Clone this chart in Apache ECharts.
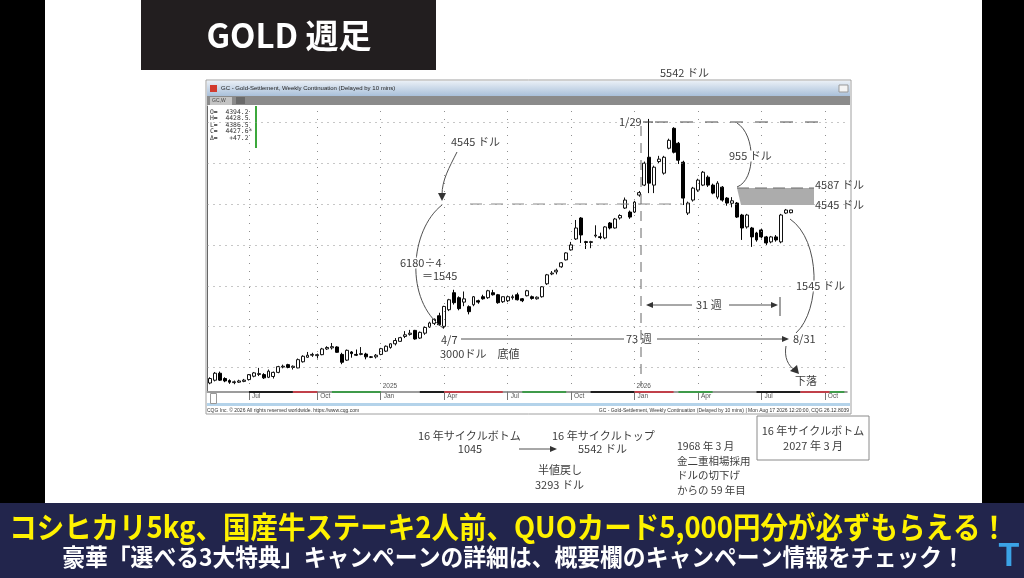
<!DOCTYPE html>
<html><head><meta charset="utf-8">
<script src="https://cdn.jsdelivr.net/npm/echarts@6/dist/echarts.min.js"></script>
<style>html,body{margin:0;padding:0;background:#fff;}#c{width:1024px;height:578px;}</style>
</head><body><div id="c"></div>
<script>
// ---- data ----
const firstWeek = '2024-05-06';   // first weekly bar (Monday)
const weekSlots = 131;            // bars that fit on the time axis
// [open, close, low, high]
const ohlc2024 = [
 [2310,2365,2295,2380],[2344,2430,2330,2445],[2430,2345,2335,2450],[2365,2335,2320,2380],
 [2340,2320,2300,2355],[2315,2325,2295,2340],[2320,2335,2310,2350],[2330,2345,2320,2360],
 [2352,2413,2340,2420],[2393,2434,2380,2445],[2415,2425,2395,2495],[2413,2373,2360,2430],
 [2380,2455,2370,2475],[2390,2440,2365,2450],[2440,2510,2430,2520],[2505,2515,2490,2535],
 [2535,2500,2490,2545],[2500,2515,2475,2525],[2495,2596,2490,2610],[2570,2637,2560,2650],
 [2625,2650,2620,2690],[2650,2660,2630,2680],[2645,2657,2610,2670],[2657,2727,2650,2740],
 [2727,2745,2715,2760],[2740,2755,2720,2800],[2751,2686,2680,2760],[2660,2564,2540,2680],
 [2590,2710,2580,2720],[2690,2670,2620,2700],[2660,2650,2640,2720],[2660,2670,2650,2750],
 [2665,2630,2600,2680],[2630,2625,2615,2640],[2630,2650,2610,2665]
];
const ohlc2025 = [
 [2660,2730,2650,2740],[2700,2760,2690,2770],[2745,2790,2730,2795],[2790,2830,2770,2860],
 [2820,2865,2815,2875],[2880,2900,2860,2945],[2905,2920,2890,2960],[2954,2849,2840,2960],
 [2860,2930,2850,2940],[2920,2990,2900,3005],[2995,3045,2985,3060],[3040,3090,3020,3100],
 [3133,3023,3010,3170],[3003,3247,2975,3255],[3207,3329,3190,3340],[3415,3293,3270,3451],
 [3354,3220,3200,3370],[3300,3340,3250,3430],[3244,3183,3150,3260],[3268,3366,3250,3375],
 [3317,3300,3280,3330],[3366,3341,3330,3390],[3354,3439,3340,3450],[3415,3390,3380,3450],
 [3390,3293,3280,3400],[3305,3366,3290,3370],[3317,3366,3300,3380],[3354,3366,3330,3390],
 [3390,3329,3320,3415],[3341,3317,3300,3350],[3378,3439,3370,3450],[3366,3345,3330,3380],
 [3341,3360,3330,3370],[3366,3488,3355,3495],[3524,3634,3510,3645],[3645,3655,3630,3680],
 [3670,3690,3640,3710],[3732,3781,3720,3790],[3817,3902,3810,3910],[3939,4000,3930,4037],
 [4073,4207,4060,4305],[4329,4122,4024,4340],[4040,4030,3950,4050],[4030,4040,3960,4050],
 [4110,4120,4090,4240],[4100,4090,4070,4150],[4085,4220,4070,4230],[4268,4207,4190,4280],
 [4207,4317,4200,4330],[4330,4360,4310,4375],[4451,4549,4440,4580],[4402,4341,4320,4420]
];
const ohlc2026 = [
 [4402,4524,4390,4540],[4610,4640,4590,4660],[4732,5000,4720,5020],[5073,4756,4634,5542],
 [4732,4951,4634,4970],[5020,5050,5000,5090],[4878,5073,4860,5090],[5183,5280,5170,5300],
 [5427,5134,5120,5440],[5244,5037,4990,5260],[5012,4573,4488,5030],[4390,4512,4366,4530],
 [4549,4695,4530,4710],[4671,4793,4650,4810],[4732,4890,4720,4905],[4829,4732,4710,4850],
 [4732,4634,4620,4750],[4585,4756,4560,4780],[4707,4549,4530,4720],[4573,4512,4480,4585],
 [4510,4540,4460,4585],[4512,4341,4330,4525],[4366,4207,4061,4380],[4220,4366,4200,4380],
 [4207,4098,3976,4220],[4146,4061,4040,4160],[4183,4098,4080,4200],[4098,4024,4000,4110],
 [4037,4098,4020,4110],[4098,4061,4040,4120],[4037,4366,4020,4380],[4390,4427,4380,4440],
 [4394.2,4427.6,4386.5,4428.5]
];
const priceGrid = [2500,3000,3500,4000,4500,5000,5500];
const monthNames = ['Jan','Feb','Mar','Apr','May','Jun','Jul','Aug','Sep','Oct','Nov','Dec'];
const ohlcBox = ['O=  4394.2','H=  4428.5','L=  4386.5','C=  4427.6*','Δ=   +47.2'];
// coloured stretches of the time-axis line: [first bar, last bar, colour]
const axisBands = [
 [8,17,'#1e1e1e'],[17,22,'#c0404a'],[25,35,'#3f9a4a'],
 [43,48,'#1e1e1e'],[48,60,'#c0404a'],[64,73,'#3f9a4a'],
 [78,87,'#1e1e1e'],[87,95,'#c0404a'],[96,103,'#3f9a4a'],
 [112,121,'#1e1e1e'],[121,127,'#c0404a'],[127,130,'#3f9a4a']
];

// ---- build ----
const weeks = [];
const t0 = Date.parse(firstWeek + 'T00:00:00Z');
for (let i = 0; i < weekSlots; i++) weeks.push(new Date(t0 + i * 7 * 86400000).toISOString().slice(0, 10));
const candles = ohlc2024.concat(ohlc2025, ohlc2026);
const month = w => +w.slice(5, 7) - 1;
const qIdx = new Set(), janIdx = new Set();
weeks.forEach((w, i) => {
  const m = month(w), pm = i > 0 ? month(weeks[i - 1]) : -1;
  if (m % 3 === 0 && m !== pm) { qIdx.add(i); if (m === 0) janIdx.add(i); }
});

const JP = '"Noto Sans CJK JP", "Noto Sans", sans-serif';
const SANS = '"Liberation Sans", "DejaVu Sans", sans-serif';
const ANN = '#3d3d3d';
function T(text, x, y, size, o) {
  o = o || {};
  return { type: 'text', z: o.z || 60, x: x, y: y, scaleX: o.sx || 1, style: {
    text: text, x: 0, y: 0, fill: o.color || ANN,
    font: (o.weight || 'normal') + ' ' + size + 'px ' + (o.family || JP),
    textAlign: o.align || 'left', align: o.align || 'left',
    textVerticalAlign: 'middle', verticalAlign: 'middle',
    backgroundColor: o.bg, padding: o.pad } };
}
function L(x1, y1, x2, y2, o) {
  o = o || {};
  return { type: 'line', z: o.z || 50, shape: { x1: x1, y1: y1, x2: x2, y2: y2 },
    style: { stroke: o.color || '#505050', lineWidth: o.w || 1, lineDash: o.dash || null } };
}
function B(x1, y1, c1x, c1y, c2x, c2y, x2, y2) {
  return { type: 'bezierCurve', z: 50, shape: { x1: x1, y1: y1, cpx1: c1x, cpy1: c1y, cpx2: c2x, cpy2: c2y, x2: x2, y2: y2 },
    style: { stroke: '#505050', lineWidth: 1, fill: null } };
}
function TRI(p, color) { return { type: 'polygon', z: 51, shape: { points: p }, style: { fill: color || '#333' } }; }
function R(x, y, w, h, fill, o) {
  o = o || {};
  return { type: 'rect', z: o.z === undefined ? 0 : o.z, shape: { x: x, y: y, width: w, height: h },
    style: { fill: fill, stroke: o.stroke || null, lineWidth: o.lw || 1, lineDash: o.dash || null } };
}

const g = [];
// page frame
g.push(R(0, 0, 45, 503, '#000'));
g.push(R(982, 0, 42, 503, '#000'));
g.push(R(141, 0, 295, 70, '#221e1f'));
g.push(T('GOLD 週足', 289, 35, 33, { color: '#fff', weight: 'bold', align: 'center' }));
g.push(R(0, 503, 1024, 75, '#22254c', { z: 1 }));
g.push(T('コシヒカリ5kg、国産牛ステーキ2人前、QUOカード5,000円分が必ずもらえる！', 508.5, 527, 30, { color: '#fff200', weight: 'bold', align: 'center', sx: 0.916 }));
g.push(T('豪華「選べる3大特典」キャンペーンの詳細は、概要欄のキャンペーン情報をチェック！', 513.5, 557, 24, { color: '#ffffff', weight: 'bold', align: 'center', sx: 0.95 }));
g.push(T('T', 1009, 557, 34, { color: '#3ba3e6', weight: 'bold', align: 'center', family: SANS }));

// CQG window
g.push(R(206, 80, 645, 334, '#fff', { stroke: '#a0a0a0' }));
g.push({ type: 'rect', z: 1, shape: { x: 207, y: 81, width: 643, height: 15 },
  style: { fill: new echarts.graphic.LinearGradient(0, 0, 0, 1, [{ offset: 0, color: '#e9eff6' }, { offset: 1, color: '#a9c0da' }]) } });
g.push(R(210, 85, 7, 7, '#d23a2e', { z: 2 }));
g.push(T('GC - Gold-Settlement, Weekly Continuation (Delayed by 10 mins)', 221, 88.5, 6, { family: SANS, color: '#222', z: 3 }));
g.push(R(839, 85, 9, 7, '#f4f4f4', { z: 2, stroke: '#999' }));
g.push(R(207, 96, 643, 9, '#8b8b8b', { z: 1 }));
g.push(R(210, 97, 22, 8, '#c4c4c4', { z: 2 }));
g.push(T('GC,W', 212, 101, 5, { family: SANS, color: '#444', z: 3 }));
g.push(R(236, 97, 9, 7, '#6a6a6a', { z: 2 }));
ohlcBox.forEach((s, i) => g.push(T(s, 210, 112 + i * 6.6, 6.4, { family: '"DejaVu Sans Mono", monospace', color: '#333', z: 3 })));
g.push(R(255, 106, 2, 42, '#3ca83c', { z: 3 }));
g.push(R(210.5, 393.5, 6, 10, '#fff', { z: 4, stroke: '#999' }));
// footer of window
g.push(R(207, 403, 643, 3, '#b4d3ea', { z: 1 }));
g.push(T('CQG Inc. © 2026 All rights reserved worldwide. https://www.cqg.com', 207, 410.5, 5, { family: SANS, color: '#333', z: 3 }));
g.push(T('GC - Gold-Settlement, Weekly Continuation (Delayed by 10 mins) | Mon Aug 17 2026 12:20:00, CQG 26.12.8039', 849, 410.5, 5, { family: SANS, color: '#333', align: 'right', z: 3 }));

// annotations on chart
g.push(T('5542 ドル', 660, 73, 11));
g.push(T('1/29', 619, 122, 11));
g.push(L(643, 122, 653, 122, { color: '#333' }));
g.push(L(655, 122, 826, 122, { dash: [13, 12], color: '#4a4a4a' }));
g.push(L(470, 204, 682, 204, { dash: [12, 9], color: '#8a8a8a' }));
g.push(L(641, 126, 641, 386, { dash: [10, 7], color: '#666' }));

g.push(T('4545 ドル', 451, 142, 11));
g.push(B(457, 152, 449, 168, 442, 180, 442, 195));
g.push(TRI([[438, 193], [446, 193], [442, 201]]));
g.push(B(442, 205, 410, 230, 404, 300, 443, 328));
g.push(T('6180÷4', 399, 263, 11, { bg: '#fff', pad: [0, 1, 0, 1] }));
g.push(T('＝1545', 422, 276, 11));
g.push(T('4/7', 441, 340, 11));
g.push(T('3000ドル　底値', 440, 354, 11));
g.push(L(461, 339, 624, 339));
g.push(T('73 週', 626, 339, 11));
g.push(L(657, 339, 784, 339));
g.push(TRI([[782, 336], [782, 342], [789, 339]]));
g.push(T('8/31', 793, 339, 11));
g.push(B(786, 346, 784, 357, 788, 366, 795, 370));
g.push(TRI([[790, 371], [797, 365], [799, 374]]));
g.push(T('下落', 795, 381, 11));

g.push(L(650, 305, 692, 305));
g.push(TRI([[653, 302], [653, 308], [646, 305]]));
g.push(T('31 週', 696, 305, 11));
g.push(L(729, 305, 773, 305));
g.push(TRI([[771, 302], [771, 308], [778, 305]]));
g.push(L(780, 297, 780, 316, { color: '#444' }));

g.push({ type: 'polygon', z: 45, shape: { points: [[737, 188], [814, 188], [814, 205], [741, 205]] }, style: { fill: '#acacac' } });
g.push(L(737, 188, 814, 188, { dash: [12, 6], color: '#6a6a6a' }));
g.push(B(737, 123, 756, 135, 756, 180, 737, 187));
g.push(T('955 ドル', 728, 156, 11, { bg: '#fff', pad: [0, 1, 0, 1] }));
g.push(T('4587 ドル', 815, 185, 11));
g.push(T('4545 ドル', 815, 205, 11));
g.push(B(790, 219, 821, 240, 821, 310, 796, 333));
g.push(T('1545 ドル', 795, 286, 11, { bg: '#fff', pad: [0, 1, 0, 1] }));

// notes under the chart
g.push(T('16 年サイクルボトム', 418, 436, 11));
g.push(T('1045', 470, 449, 11, { align: 'center' }));
g.push(L(519, 449, 552, 449));
g.push(TRI([[550, 446], [550, 452], [557, 449]]));
g.push(T('16 年サイクルトップ', 552, 436, 11));
g.push(T('5542 ドル', 578, 449, 11));
g.push(T('半値戻し', 538, 470, 11));
g.push(T('3293 ドル', 535, 485, 11));
g.push(T('1968 年 3 月', 677, 446, 10.5));
g.push(T('金二重相場採用', 677, 461, 10.5));
g.push(T('ドルの切下げ', 677, 475, 10.5));
g.push(T('からの 59 年目', 677, 490, 10.5));
g.push(R(757, 416, 112, 44, null, { stroke: '#8a8a8a', z: 5 }));
g.push(T('16 年サイクルボトム', 813, 431, 11, { align: 'center' }));
g.push(T('2027 年 3 月', 813, 446, 11, { align: 'center' }));

const gridLines = priceGrid.map(v => ({ yAxis: v, lineStyle: { type: [1, 5], color: '#8f8f8f', width: 1 } }))
  .concat([...qIdx].map(i => ({ xAxis: weeks[i], lineStyle: { type: [1, 7], color: '#8f8f8f', width: 1 } })));
const bandLines = axisBands.map(b => [
  { coord: [weeks[b[0]], 2200], lineStyle: { color: b[2], width: 2, type: 'solid' } },
  { coord: [weeks[b[1]], 2200] }
]);

const option = {
  backgroundColor: '#ffffff',
  animation: false,
  textStyle: { fontFamily: SANS },
  grid: { left: 207.5, right: 177.2, top: 106, height: 286, show: false },
  xAxis: [{
    type: 'category', data: weeks, boundaryGap: true,
    axisLine: { show: true, lineStyle: { color: '#9c9c9c', width: 2 } },
    axisTick: { show: true, alignWithLabel: true, interval: i => qIdx.has(i), length: 8, lineStyle: { color: '#777' } },
    axisLabel: { interval: i => qIdx.has(i), formatter: v => monthNames[month(v)], fontSize: 6.5, color: '#555',
      align: 'left', verticalAlign: 'top', margin: 1, padding: [0, 0, 0, 3] },
    splitLine: { show: false }
  }, {
    type: 'category', data: weeks, boundaryGap: true, position: 'bottom', gridIndex: 0,
    axisLine: { show: false }, axisTick: { show: false }, splitLine: { show: false },
    axisLabel: { inside: true, interval: i => janIdx.has(i), formatter: v => v.slice(0, 4), fontSize: 6.5, color: '#555',
      align: 'left', margin: 2, padding: [0, 0, 0, 2] }
  }],
  yAxis: { type: 'value', min: 2200, max: 5700, axisLabel: { show: false }, axisTick: { show: false },
    splitLine: { show: false }, axisLine: { show: true, lineStyle: { color: '#666' } } },
  series: [{
    type: 'line', data: [], z: 1, silent: true,
    markLine: { silent: true, symbol: ['none', 'none'], label: { show: false }, data: gridLines }
  }, {
    type: 'line', data: [], z: 4, silent: true,
    markLine: { silent: true, symbol: ['none', 'none'], label: { show: false }, data: bandLines }
  }, {
    type: 'candlestick', name: 'GC', data: candles, z: 3, barWidth: 3.4,
    itemStyle: { color: '#ffffff', color0: '#000000', borderColor: '#111', borderColor0: '#000', borderWidth: 1 }
  }],
  graphic: { elements: g }
};
const chart = echarts.init(document.getElementById('c'), null, { renderer: 'canvas', width: 1024, height: 578 });
chart.setOption(option);
</script></body></html>
